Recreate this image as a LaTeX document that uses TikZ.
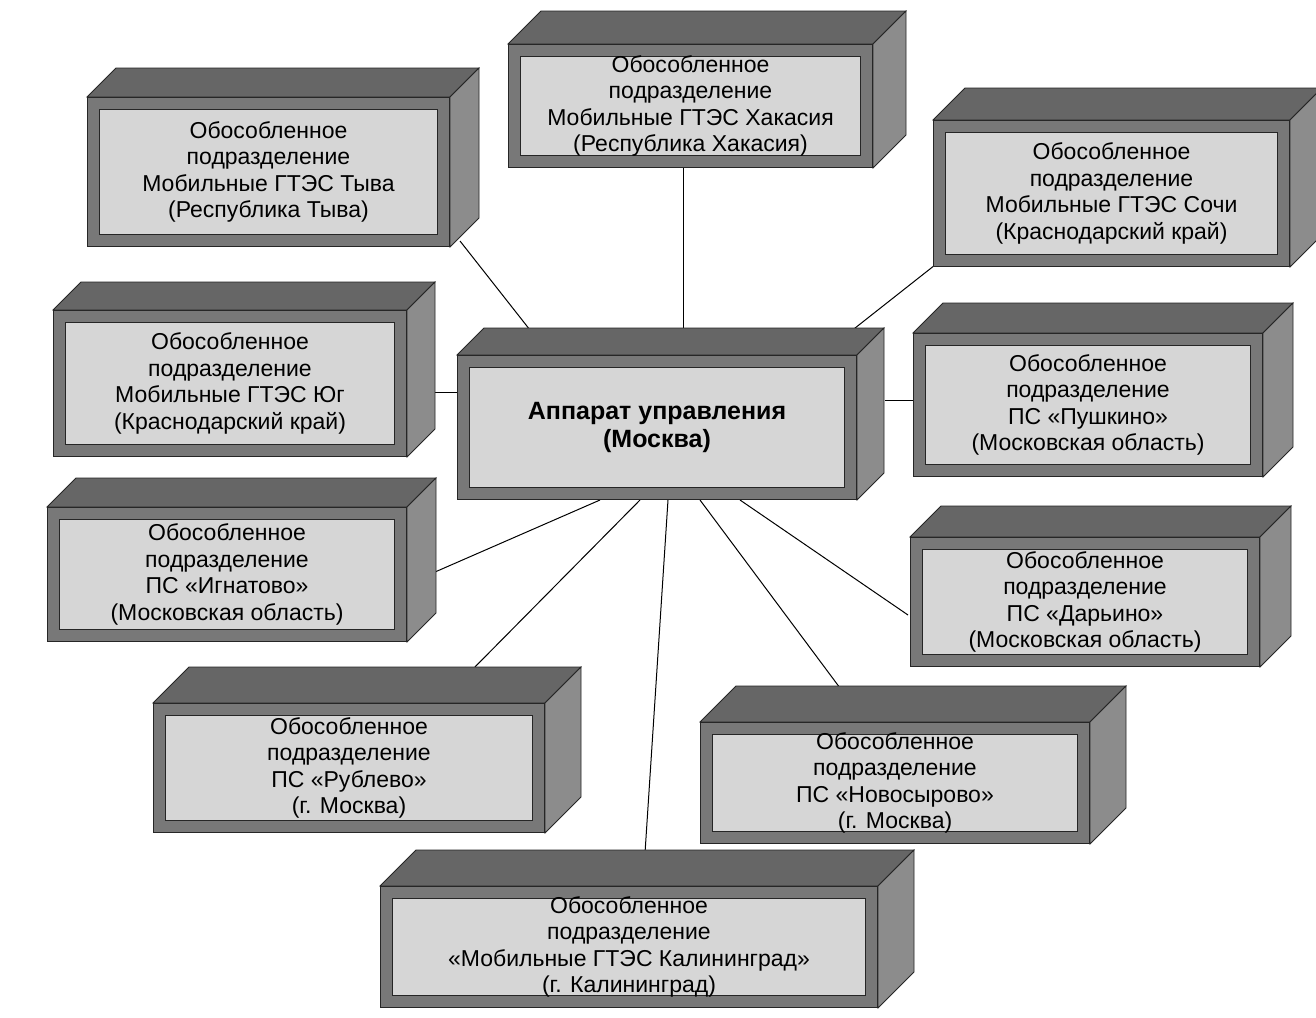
\documentclass[tikz,border=0pt]{standalone}
\usepackage{fontspec}
\setmainfont{Liberation Sans}
\usetikzlibrary{calc}
\pgfdeclarelayer{bg}
\pgfsetlayers{bg,main}
\definecolor{topc}{gray}{0.40}
\definecolor{sidec}{gray}{0.55}
\definecolor{framec}{gray}{0.47}
\definecolor{innerc}{gray}{0.84}
\tikzset{
  cube/.style={draw=black!85, line width=0.8pt, double=framec, double distance=11pt,
    fill=innerc, inner sep=0pt, outer sep=6.3pt, align=center,
    font=\fontsize{23}{26.5}\selectfont},
  cubeface/.style={draw=black!85, line width=0.8pt},
  conn/.style={draw=black, line width=1pt},
}
\begin{document}
\begin{tikzpicture}[x=1pt,y=-1pt]
\path[use as bounding box] (0,0) rectangle (1316,1017);

\node[cube, minimum width=350.4pt, minimum height=137.4pt] (tyva) at (268.5,172)
  {Обособленное\\подразделение\\Мобильные ГТЭС Тыва\\(Республика Тыва)};
\node[cube, minimum width=352.4pt, minimum height=111.4pt] (hak) at (690.5,106)
  {Обособленное\\подразделение\\Мобильные ГТЭС Хакасия\\(Республика Хакасия)};
\node[cube, minimum width=344.4pt, minimum height=134.4pt] (sochi) at (1111.5,193.5)
  {Обособленное\\подразделение\\Мобильные ГТЭС Сочи\\(Краснодарский край)};
\node[cube, minimum width=341.4pt, minimum height=134.4pt] (yug) at (230,383.5)
  {Обособленное\\подразделение\\Мобильные ГТЭС Юг\\(Краснодарский край)};
\node[cube, minimum width=387.4pt, minimum height=132.4pt,
  font=\bfseries\fontsize{25}{28}\selectfont] (center) at (657,427.5)
  {Аппарат управления\\(Москва)};
\node[cube, minimum width=337.4pt, minimum height=131.4pt] (pushkino) at (1088,405)
  {Обособленное\\подразделение\\ПС «Пушкино»\\(Московская область)};
\node[cube, minimum width=347.4pt, minimum height=122.4pt] (ignatovo) at (227,574.5)
  {Обособленное\\подразделение\\ПС «Игнатово»\\(Московская область)};
\node[cube, minimum width=337.4pt, minimum height=117.4pt] (darino) at (1085,602)
  {Обособленное\\подразделение\\ПС «Дарьино»\\(Московская область)};
\node[cube, minimum width=379.4pt, minimum height=117.4pt] (rublevo) at (349,768)
  {Обособленное\\подразделение\\ПС «Рублево»\\(г. Москва)};
\node[cube, minimum width=377.4pt, minimum height=109.4pt] (novo) at (895,783)
  {Обособленное\\подразделение\\ПС «Новосырово»\\(г. Москва)};
\node[cube, minimum width=485.4pt, minimum height=109.4pt] (kal) at (629,947)
  {Обособленное\\подразделение\\«Мобильные ГТЭС Калининград»\\(г. Калининград)};

\begin{pgfonlayer}{bg}
\fill[white] (0,0) rectangle (1316,1017);
% connectors
\draw[conn] ($(tyva.south east)+(10,-6)$) -- ($(center.north west)+(73,-25)$);
\draw[conn] ($(hak.south west)+(175,0)$) -- ($(center.north west)+(226,-25)$);
\draw[conn] ($(sochi.south west)+(2,-2)$) -- ($(center.north east)+(-7,-23)$);
\draw[conn] ($(yug.north east)+(26,82)$) -- ($(center.north west)+(0,37)$);
\draw[conn] ($(center.north east)+(28,45)$) -- ($(pushkino.north west)+(0,67)$);
\draw[conn] ($(ignatovo.north east)+(28,65)$) -- ($(center.south west)+(143,0)$);
\draw[conn] ($(rublevo.north west)+(317,-31)$) -- ($(center.south west)+(183,0)$);
\draw[conn] ($(kal.north west)+(265,-33)$) -- ($(center.south west)+(211,0)$);
\draw[conn] ($(novo.north west)+(143,-30)$) -- ($(center.south west)+(243,0)$);
\draw[conn] ($(darino.north west)+(-2,78)$) -- ($(center.south west)+(283,0)$);
% 3D faces
\foreach \n/\d in {tyva/29, hak/33, sochi/32, yug/28, center/27, pushkino/30,
                   ignatovo/29, darino/31, rublevo/36, novo/36, kal/36} {
  \filldraw[cubeface, fill=topc] (\n.north west) -- ++(\d,-\d)
     -- ([shift={(\d,-\d)}]\n.north east) -- (\n.north east) -- cycle;
  \filldraw[cubeface, fill=sidec] (\n.north east) -- ++(\d,-\d)
     -- ([shift={(\d,-\d)}]\n.south east) -- (\n.south east) -- cycle;
}
\end{pgfonlayer}
\end{tikzpicture}
\end{document}
